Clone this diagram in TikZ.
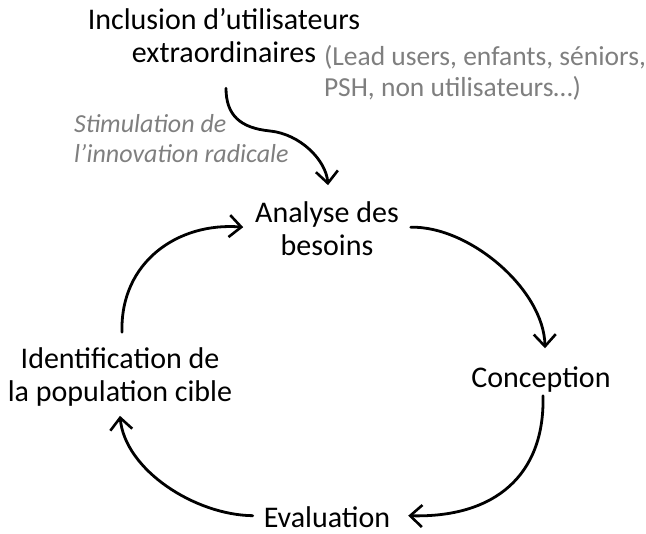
\documentclass[tikz,border=0pt]{standalone}
\usepackage{fontspec}
\setmainfont{Carlito}
\usetikzlibrary{arrows.meta}
\definecolor{notegray}{RGB}{127,127,127}
\tikzset{
  label/.style={inner sep=0pt, outer sep=0pt, anchor=base, align=center, font=\fontsize{30}{33}\selectfont},
  note/.style={inner sep=0pt, outer sep=0pt, anchor=base west, align=left, text=notegray, font=\fontsize{27.5}{31}\selectfont},
  flow/.style={line width=2.8pt, line cap=round, -{Straight Barb[length=12pt,width=22pt,line width=2.6pt]}}
}
\begin{document}
\begin{tikzpicture}[x=1pt,y=-1pt]
\useasboundingbox (0,0) rectangle (646,534);
\node[label] (incl) at (224,63) {Inclusion d’utilisateurs\\extraordinaires};
\node[note] (lead) at (324,97) {(Lead users, enfants, séniors,\\PSH, non utilisateurs…)};
\node[note, font=\fontsize{26}{30}\selectfont\itshape] (stim) at (74,163) {Stimulation de\\l’innovation radicale};
\node[label] (anal) at (327,256) {Analyse des\\besoins};
\node[label] (conc) at (541,388) {Conception};
\node[label] (eval) at (327,528) {Evaluation};
\node[label] (iden) at (120,402) {Identification de\\la population cible};

\draw[flow] ([shift={(2,25)}]incl.south) .. controls (226,115) and (240,128) .. (270,131)
  .. controls (300,134) and (326,160) .. ([shift={(1,-17)}]anal.north);
\draw[flow] ([shift={(2,-16)}]iden.north) .. controls (120,262) and (178,222) .. ([shift={(-12,-2)}]anal.west);
\draw[flow] ([shift={(12,-2)}]anal.east) .. controls (470,226) and (544,290) .. ([shift={(4,-19)}]conc.north);
\draw[flow] ([shift={(2,3)}]conc.south) .. controls (545,475) and (495,518) .. ([shift={(18,-2)}]eval.east);
\draw[flow] ([shift={(-11,-2)}]eval.west) .. controls (195,515) and (125,470) .. ([shift={(0,9)}]iden.south);
\end{tikzpicture}
\end{document}
